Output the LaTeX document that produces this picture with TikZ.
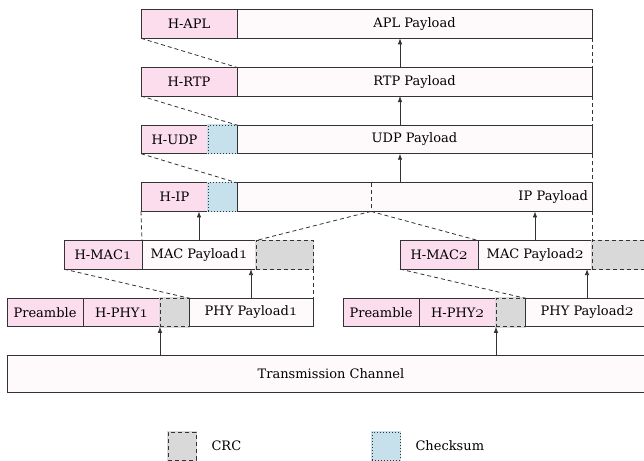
\documentclass[tikz,border=0pt]{standalone}
\usepackage{fontspec}
\setmainfont{DejaVu Serif}
\usetikzlibrary{positioning,arrows.meta}

\definecolor{hdrpink}{HTML}{FCDDEE}
\definecolor{paywhite}{HTML}{FEFAFC}
\definecolor{crcgray}{HTML}{D9D9D9}
\definecolor{chkblue}{HTML}{C6E0EC}
\definecolor{edge}{HTML}{333333}
\newcommand\osn[1]{{\fontsize{16}{16}\usefont{OML}{cmm}{m}{it}#1}}

\tikzset{
    field/.style={draw=edge,line width=0.9pt,minimum height=28.6,inner sep=3pt,outer sep=0pt,font=\fontsize{13}{15}\selectfont},
    hdr/.style={field,fill=hdrpink},
    pay/.style={field,fill=paywhite},
    crcbox/.style={field,fill=crcgray,preaction={draw=crcgray,solid,line width=1.5pt},dash pattern=on 4pt off 3pt},
    chkbox/.style={field,fill=chkblue,preaction={draw=chkblue,solid,line width=1.5pt},dash pattern=on 1pt off 2pt},
    link/.style={draw=edge,line width=0.8pt,dash pattern=on 4pt off 3pt},
    up/.style={draw=edge,line width=0.8pt,-{Latex[length=6pt,width=4.5pt]}},
    lbl/.style={font=\fontsize{13}{15}\selectfont}
}

\begin{document}
\begin{tikzpicture}[x=1pt,y=-1pt]
        \useasboundingbox (0,0) rectangle (644,460);
        \clip (0,0) rectangle (644,460);
        \node[hdr,minimum width=96,anchor=west] (aplhdr) at (141,24) {H-APL};
        \node[pay,minimum width=355,right=0pt of aplhdr] (aplpay) {APL Payload};
        \node[hdr,minimum width=96,anchor=west] (rtphdr) at (141,81.7) {H-RTP};
        \node[pay,minimum width=355,right=0pt of rtphdr] (rtppay) {RTP Payload};
        \node[hdr,minimum width=67,anchor=west] (udphdr) at (141,139.4) {H-UDP};
        \node[chkbox,minimum width=29,right=0pt of udphdr] (udpchk) {};
        \node[pay,minimum width=355,right=0pt of udpchk] (udppay) {UDP Payload};
        \node[hdr,minimum width=67,anchor=west] (iphdr) at (141,197.1) {H-IP};
        \node[chkbox,minimum width=29,right=0pt of iphdr] (ipchk) {};
        \node[pay,minimum width=355,right=0pt of ipchk,text width=347,align=right] (ippay) {IP Payload};
        \coordinate (ipsplit) at (371,197.1);
        \draw[link] (ipsplit |- ippay.north) -- (ipsplit |- ippay.south);
        \node[pay,minimum width=648,minimum height=37] (chan) at (331,373.5) {Transmission Channel};

        \draw[link] (aplhdr.south west) -- (rtppay.north west);
        \draw[link] (aplpay.south east) -- (rtppay.north east);
        \draw[link] (rtphdr.south west) -- (udppay.north west);
        \draw[link] (rtppay.south east) -- (udppay.north east);
        \draw[link] (udphdr.south west) -- (ippay.north west);
        \draw[link] (udppay.south east) -- (ippay.north east);
        \draw[up] ([xshift=-14.5]rtppay.north) -- ([xshift=-14.5]aplpay.south);
        \draw[up] ([xshift=-14.5]udppay.north) -- ([xshift=-14.5]rtppay.south);
        \draw[up] ([xshift=-14.5]ippay.north) -- ([xshift=-14.5]udppay.south);

        \foreach \i/\dx in {1/0,2/336}{
            \node[hdr,minimum width=78,anchor=west] (machdr\i) at (64+\dx,254.8) {H-MAC\osn{\i}};
            \node[pay,minimum width=114,right=0pt of machdr\i] (macpay\i) {MAC Payload\osn{\i}};
            \node[crcbox,minimum width=57,right=0pt of macpay\i] (maccrc\i) {};
            \node[hdr,minimum width=76,anchor=west] (pre\i) at (7+\dx,312.5) {Preamble};
            \node[hdr,minimum width=77,right=0pt of pre\i] (phyhdr\i) {H-PHY\osn{\i}};
            \node[crcbox,minimum width=29,right=0pt of phyhdr\i] (phycrc\i) {};
            \node[pay,minimum width=124,right=0pt of phycrc\i] (phypay\i) {PHY Payload\osn{\i}};
            \draw[link] (machdr\i.south west) -- (phypay\i.north west);
            \draw[link] (maccrc\i.south east) -- (phypay\i.north east);
            \draw[up] (phypay\i.north) -- (phypay\i.north |- macpay\i.south);
            \draw[up] (macpay\i.north) -- (macpay\i.north |- iphdr.south);
            \draw[up] (phycrc\i.south west |- chan.north) -- (phycrc\i.south west);
        }
        \draw[link] (iphdr.south west) -- (machdr1.north east);
        \draw[link] (ipsplit |- ippay.south) -- (macpay1.north east);
        \draw[link] (ipsplit |- ippay.south) -- (macpay2.north west);
        \draw[link] (ippay.south east) -- (macpay2.north east);

        \node[crcbox,minimum width=28,minimum height=28] (legcrc) at (182,446) {};
        \node[lbl,right=12pt of legcrc] (legcrctxt) {CRC};
        \node[chkbox,minimum width=28,minimum height=28] (legchk) at (386,446) {};
        \node[lbl,right=12pt of legchk] (legchktxt) {Checksum};
    \end{tikzpicture}
\end{document}
